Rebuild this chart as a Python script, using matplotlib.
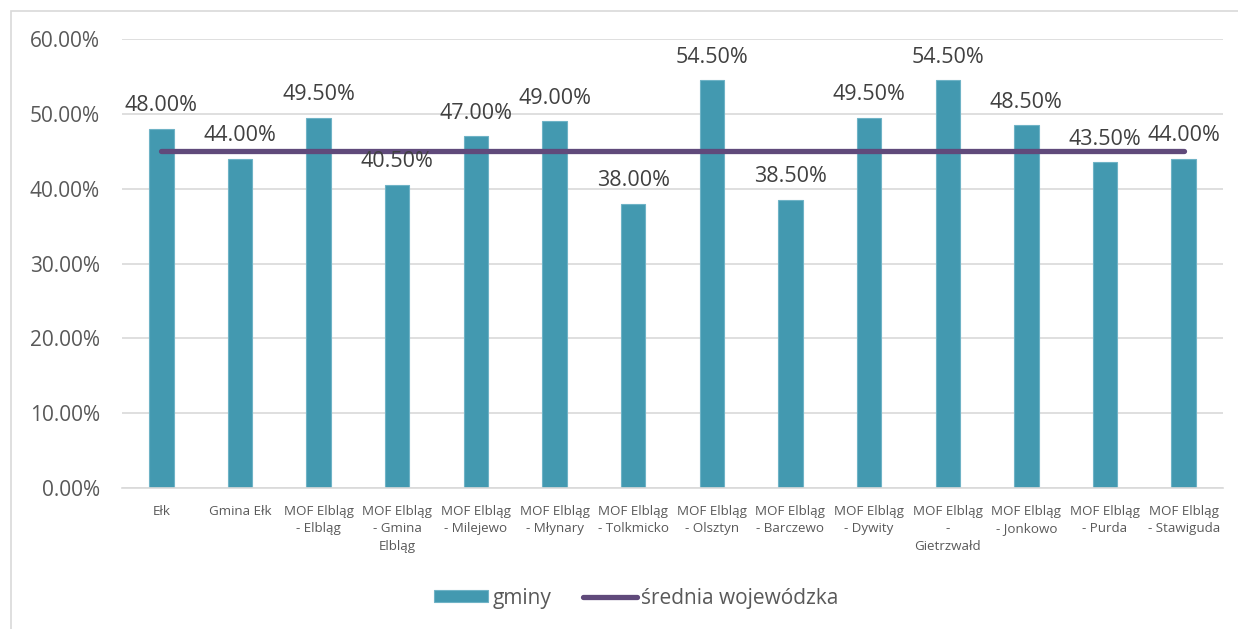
import matplotlib
matplotlib.use('Agg')
import matplotlib.pyplot as plt
from matplotlib.patches import Rectangle

categories = ['Ełk', 'Gmina Ełk', 'MOF Elbląg\n- Elbląg', 'MOF Elbląg\n- Gmina\nElbląg',
              'MOF Elbląg\n- Milejewo', 'MOF Elbląg\n- Młynary', 'MOF Elbląg\n- Tolkmicko',
              'MOF Elbląg\n- Olsztyn', 'MOF Elbląg\n- Barczewo', 'MOF Elbląg\n- Dywity',
              'MOF Elbląg\n-\nGietrzwałd', 'MOF Elbląg\n- Jonkowo', 'MOF Elbląg\n- Purda',
              'MOF Elbląg\n- Stawiguda']
gminy = [48.0, 44.0, 49.5, 40.5, 47.0, 49.0, 38.0, 54.5, 38.5, 49.5, 54.5, 48.5, 43.5, 44.0]
srednia = [45.0] * len(categories)
yticks = [0, 10, 20, 30, 40, 50, 60]

plt.rcParams['font.family'] = ['Open Sans', 'DejaVu Sans']
TXT = '#595959'
fig = plt.figure(figsize=(12.38, 6.29), dpi=100)
fig.patches.append(Rectangle((11/1238, -0.1), 1.2, 1 - 11/629 + 0.1, transform=fig.transFigure,
                             fill=False, edgecolor='#D9D9D9', linewidth=1.2))
ax = fig.add_axes([122/1238, 1 - 488/629, 1101/1238, (488 - 39)/629])
x = list(range(len(categories)))
bars = ax.bar(x, gminy, width=0.31, color='#4399B0', edgecolor='#6FB3C6', linewidth=0.8,
              label='gminy', zorder=2)
line, = ax.plot(x, srednia, color='#604A7B', linewidth=3.8, solid_capstyle='round',
                label='średnia wojewódzka', zorder=3)
for xi, v in zip(x, gminy):
    ax.annotate(f'{v:.2f}%', (xi, v), xytext=(0, 9), textcoords='offset points',
                ha='center', va='bottom', fontsize=15.5, color='#404040', zorder=4)
ax.set_xlim(-0.5, len(categories) - 0.5)
ax.set_ylim(0, 60)
ax.set_yticks(yticks)
ax.set_yticklabels([f'{t:.2f}%' for t in yticks], fontsize=15, color=TXT)
ax.set_xticks(x)
ax.set_xticklabels(categories, fontsize=9.6, color=TXT, linespacing=1.45)
ax.tick_params(axis='both', length=0)
ax.tick_params(axis='x', pad=12)
ax.tick_params(axis='y', pad=16)
ax.grid(axis='y', color='#D9D9D9', linewidth=1.2, zorder=0)
for s in ['top', 'right', 'left']:
    ax.spines[s].set_visible(False)
ax.spines['bottom'].set_color('#D9D9D9')
ax.spines['bottom'].set_linewidth(1.2)
leg = ax.legend([bars, line], ['gminy', 'średnia wojewódzka'], loc='center',
                bbox_to_anchor=(0.467, -0.245), ncol=2, frameon=False,
                fontsize=15, handlelength=2.6, handleheight=0.5, columnspacing=1.5,
                handletextpad=0.2)
for t in leg.get_texts():
    t.set_color(TXT)
fig.savefig('out.png', dpi=100)
